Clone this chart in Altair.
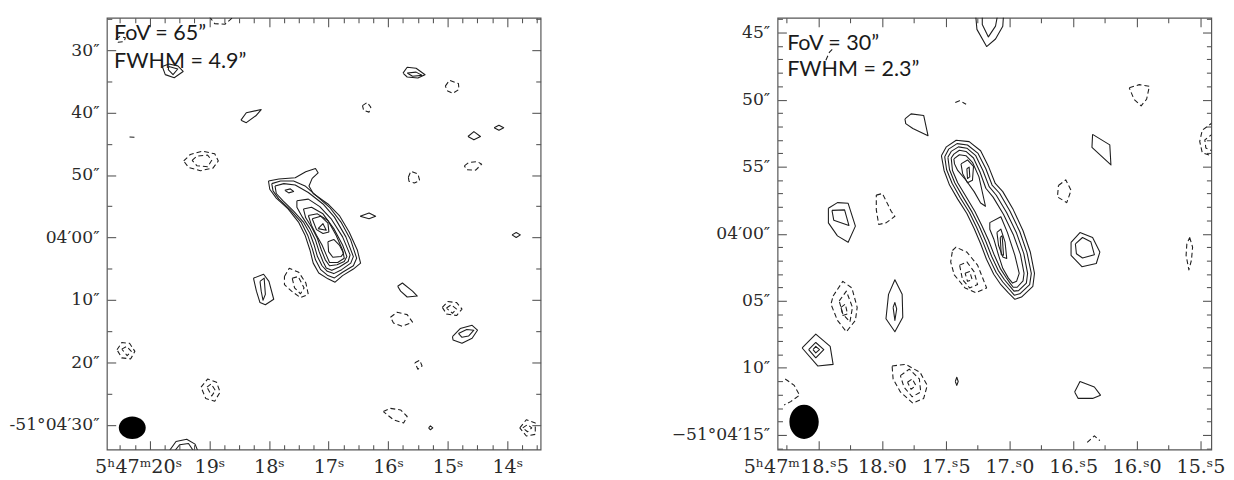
import altair as alt
import pandas as pd

FRAME = "#555555"
INK = "#1e1e1e"
LABEL_FONT = "DejaVu Serif"

# ---------------- LEFT PANEL (FoV 65", FWHM 4.9") ----------------
L_RA_DOMAIN = [20.72, 13.44]          # RA seconds (5h47m..), decreasing to the right
L_DEC_DOMAIN = [24.8, 94.0]           # arcsec past -51d03'00"
L_RA_MAJOR = [20, 19, 18, 17, 16, 15, 14]
L_RA_LABELS = ["5ʰ47ᵐ20ˢ", "19ˢ", "18ˢ", "17ˢ", "16ˢ", "15ˢ", "14ˢ"]
L_RA_MINOR = [20.5, 20.25, 19.75, 19.5, 19.25, 18.75, 18.5, 18.25, 17.75, 17.5, 17.25,
              16.75, 16.5, 16.25, 15.75, 15.5, 15.25, 14.75, 14.5, 14.25, 13.75, 13.5]
L_DEC_MAJOR = [30, 40, 50, 60, 70, 80, 90]
L_DEC_LABELS = ["30″", "40″", "50″", "04′00″", "10″", "20″", "-51°04′30″"]
L_DEC_MINOR = [25, 35, 45, 55, 65, 75, 85]

L_POS = [
    [(19.79, 32.6), (19.68, 32.2), (19.53, 32.5), (19.44, 33.39), (19.59, 34.4), (19.74, 33.9)],
    [(19.68, 32.6), (19.53, 33.0), (19.61, 33.9), (19.69, 33.1)],
    [(18.47, 41.2), (18.38, 40.0), (18.13, 39.5), (18.22, 40.5), (18.38, 41.6)],
    [(15.75, 33.65), (15.68, 32.71), (15.53, 32.87), (15.38, 33.91), (15.50, 34.43), (15.68, 34.28)],
    [(15.68, 33.65), (15.53, 33.5), (15.43, 34.02), (15.59, 34.17)],
    [(14.22, 42.42), (14.14, 42.0), (14.06, 42.42), (14.14, 42.8)],
    [(14.66, 43.82), (14.56, 43.04), (14.45, 43.82), (14.56, 44.35)],
    [(16.47, 56.6), (16.32, 56.08), (16.21, 56.6), (16.32, 57.0)],
    [(13.92, 59.58), (13.85, 59.21), (13.78, 59.58), (13.85, 60.0)],
    [(18.26, 66.52), (18.09, 65.9), (18.0, 67.04), (17.92, 69.9), (18.06, 70.79), (18.15, 70.43), (18.21, 68.6)],
    [(18.15, 67.04), (18.08, 66.52), (18.06, 69.12), (18.10, 70.06), (18.13, 68.6)],
    [(15.84, 67.82), (15.76, 67.3), (15.59, 68.6), (15.51, 69.38), (15.68, 69.54), (15.79, 68.6)],
    [(14.92, 75.9), (14.79, 74.6), (14.59, 74.08), (14.50, 74.86), (14.59, 76.16), (14.76, 76.95), (14.91, 76.43)],
    [(14.82, 75.38), (14.68, 74.76), (14.56, 74.86), (14.65, 75.8), (14.76, 76.0)],
    [(15.32, 90.51), (15.29, 90.2), (15.25, 90.51), (15.29, 90.82)],
    # main source, outer to inner
    [(18.008, 50.95), (17.833, 50.63), (17.559, 50.42), (17.383, 49.48), (17.219, 48.95), (17.175, 49.63),
     (17.274, 50.53), (17.328, 51.74), (17.257, 52.95), (17.010, 54.63), (16.818, 56.48), (16.654, 59.11),
     (16.517, 62.00), (16.462, 64.11), (16.583, 65.06), (16.764, 66.11), (16.890, 67.16), (17.010, 66.63),
     (17.164, 65.69), (17.257, 64.11), (17.312, 62.00), (17.394, 59.63), (17.504, 57.53), (17.679, 55.42),
     (17.877, 53.69), (17.986, 52.27)],
    [(17.953, 51.37), (17.805, 50.95), (17.586, 50.95), (17.394, 51.74), (17.202, 53.32), (16.983, 55.16),
     (16.791, 57.53), (16.627, 60.42), (16.528, 63.32), (16.583, 64.53), (16.764, 65.58), (16.901, 66.48),
     (17.010, 66.11), (17.131, 65.16), (17.219, 63.58), (17.274, 61.74), (17.350, 59.63), (17.460, 57.53),
     (17.641, 55.58), (17.833, 53.85), (17.931, 52.53)],
    [(17.898, 51.74), (17.750, 51.37), (17.559, 51.58), (17.339, 52.79), (17.093, 54.63), (16.901, 56.74),
     (16.709, 59.90), (16.583, 63.06), (16.627, 64.11), (16.780, 65.16), (16.912, 65.79), (17.021, 65.42),
     (17.109, 64.53), (17.186, 63.06), (17.241, 61.21), (17.312, 59.37), (17.421, 57.53), (17.586, 55.79),
     (17.767, 54.11), (17.877, 52.95)],
    [(17.734, 52.42), (17.641, 52.21), (17.586, 52.63), (17.668, 52.85)],
    [(17.531, 54.11), (17.339, 53.85), (17.147, 55.06), (16.956, 57.00), (16.764, 59.90), (16.638, 62.79),
     (16.671, 63.85), (16.818, 64.74), (16.945, 65.27), (17.038, 64.90), (17.093, 63.85), (17.158, 62.27),
     (17.219, 60.42), (17.312, 58.58), (17.438, 56.74), (17.531, 55.16)],
    [(17.421, 55.42), (17.285, 55.16), (17.093, 56.21), (16.912, 58.58), (16.764, 61.21), (16.692, 63.06),
     (16.736, 63.85), (16.857, 64.37), (16.983, 64.53), (17.054, 63.58), (17.120, 62.00), (17.186, 60.16),
     (17.285, 58.32), (17.383, 56.85)],
    [(17.339, 56.48), (17.186, 56.21), (17.010, 57.27), (16.873, 59.63), (16.764, 62.00), (16.736, 63.32),
     (16.846, 64.00), (16.983, 64.00), (17.038, 62.79), (17.109, 61.21), (17.202, 59.63), (17.285, 58.06)],
    [(17.274, 57.00), (17.131, 56.58), (17.010, 57.69), (16.994, 59.11), (17.093, 59.37), (17.202, 58.74)],
    [(17.175, 58.58), (17.093, 57.79), (17.038, 58.85)],
    [(17.010, 60.69), (16.912, 60.32), (16.818, 61.21), (16.747, 62.53), (16.791, 63.06), (16.928, 63.16),
     (16.999, 62.27)],
]
L_POS_OPEN = [
    [(19.68, 94.3), (19.56, 92.7), (19.38, 92.34), (19.24, 93.12), (19.19, 94.3)],
    [(19.59, 94.3), (19.50, 93.22), (19.35, 93.01), (19.26, 94.3)],
]
L_NEG = [
    [(20.57, 28.17), (20.50, 27.8), (20.41, 28.0), (20.43, 28.6), (20.53, 28.7)],
    [(19.43, 47.74), (19.32, 46.7), (19.12, 46.17), (18.91, 46.59), (18.85, 47.74), (18.94, 48.88), (19.15, 49.3), (19.35, 48.77)],
    [(19.29, 47.63), (19.21, 46.95), (19.03, 46.8), (18.96, 47.63), (19.03, 48.67), (19.21, 48.5)],
    [(16.43, 38.87), (16.35, 38.35), (16.29, 39.13), (16.32, 39.91), (16.41, 39.65)],
    [(15.04, 35.74), (14.97, 34.8), (14.82, 35.32), (14.81, 36.26), (14.91, 36.89), (15.0, 36.52)],
    [(14.72, 48.52), (14.65, 48.0), (14.50, 47.84), (14.43, 48.26), (14.53, 49.2), (14.68, 49.14)],
    [(15.66, 50.34), (15.62, 49.4), (15.50, 49.82), (15.47, 50.87), (15.56, 51.28), (15.65, 50.97)],
    [(17.74, 66.26), (17.66, 64.95), (17.50, 65.58), (17.38, 67.3), (17.34, 69.12), (17.47, 69.64), (17.62, 68.6), (17.74, 67.56)],
    [(17.61, 66.52), (17.51, 66.26), (17.41, 68.08), (17.47, 69.02), (17.57, 68.08)],
    [(15.09, 71.2), (15.0, 70.27), (14.85, 70.43), (14.76, 71.47), (14.85, 72.51), (15.02, 72.25)],
    [(15.02, 71.31), (14.94, 70.79), (14.85, 71.47), (14.92, 72.15)],
    [(15.96, 72.78), (15.85, 71.99), (15.68, 72.36), (15.59, 73.56), (15.76, 74.24), (15.91, 73.71)],
    [(20.55, 78.0), (20.47, 76.84), (20.34, 76.95), (20.25, 78.25), (20.32, 79.45), (20.47, 79.3)],
    [(20.47, 77.89), (20.39, 77.47), (20.31, 78.25), (20.38, 78.93)],
    [(15.55, 80.08), (15.47, 79.66), (15.43, 80.6), (15.50, 81.12)],
    [(19.14, 83.99), (19.03, 82.69), (18.88, 83.21), (18.82, 84.77), (18.91, 86.23), (19.06, 85.82)],
    [(19.04, 83.99), (18.97, 83.47), (18.90, 84.51), (18.96, 85.4)],
    [(16.08, 87.9), (15.97, 87.38), (15.79, 87.64), (15.68, 88.69), (15.74, 89.73), (15.91, 89.21)],
    [(13.79, 90.51), (13.68, 89.21), (13.53, 89.73), (13.53, 91.55), (13.68, 91.82)],
    [(13.74, 90.51), (13.66, 89.99), (13.59, 90.51), (13.66, 91.14)],
]
L_NEG_OPEN = [
    [(19.0, 24.6), (18.91, 25.72), (18.74, 25.83), (18.59, 24.6)],
    [(20.34, 43.9), (20.21, 43.95)],
]
L_BEAM_RA = [20.294]
L_BEAM_DEC = [90.5]
L_TEXT_RA = [20.60, 20.60]
L_TEXT_DEC = [28.4, 32.9]
L_TEXT = ["FoV = 65”", "FWHM = 4.9”"]

# ---------------- RIGHT PANEL (FoV 30", FWHM 2.3") ----------------
R_RA_DOMAIN = [18.82, 15.415]
R_DEC_DOMAIN = [43.9, 76.1]
R_RA_MAJOR = [18.5, 18.0, 17.5, 17.0, 16.5, 16.0, 15.5]
R_RA_LABELS = ["5ʰ47ᵐ18.ˢ5", "18.ˢ0", "17.ˢ5", "17.ˢ0", "16.ˢ5", "16.ˢ0", "15.ˢ5"]
R_RA_MINOR = [18.75, 18.25, 17.75, 17.25, 16.75, 16.25, 15.75]
R_DEC_MAJOR = [45, 50, 55, 60, 65, 70, 75]
R_DEC_LABELS = ["45″", "50″", "55″", "04′00″", "05″", "10″", "−51°04′15″"]
R_DEC_MINOR = [44, 46, 47, 48, 49, 51, 52, 53, 54, 56, 57, 58, 59, 61, 62, 63, 64,
               66, 67, 68, 69, 71, 72, 73, 74, 76]

R_POS = [
    [(17.82, 51.43), (17.772, 51.06), (17.673, 51.18), (17.639, 52.69), (17.758, 52.15), (17.814, 51.79)],
    [(16.347, 52.59), (16.212, 53.37), (16.203, 54.87), (16.352, 53.56)],
    [(18.421, 58.10), (18.350, 57.68), (18.266, 57.73), (18.209, 59.43), (18.266, 60.64), (18.350, 60.16), (18.421, 59.19)],
    [(18.393, 58.26), (18.294, 58.22), (18.260, 59.38), (18.379, 58.99)],
    [(16.516, 60.64), (16.446, 59.91), (16.347, 60.28), (16.290, 61.37), (16.318, 62.22), (16.431, 62.46), (16.516, 61.61)],
    [(16.482, 60.76), (16.426, 60.28), (16.361, 60.59), (16.333, 61.56), (16.426, 61.81), (16.474, 61.49)],
    [(17.949, 64.52), (17.899, 63.43), (17.842, 64.52), (17.837, 66.22), (17.899, 67.31), (17.969, 66.34)],
    [(17.913, 65.49), (17.899, 65.13), (17.885, 65.61), (17.899, 66.46)],
    [(18.627, 68.52), (18.520, 67.48), (18.407, 68.40), (18.384, 69.74), (18.505, 69.86)],
    [(18.576, 68.64), (18.520, 68.11), (18.457, 68.64), (18.520, 69.25)],
    [(18.542, 68.64), (18.520, 68.40), (18.491, 68.64), (18.520, 68.89)],
    [(17.425, 71.02), (17.413, 70.70), (17.402, 71.02), (17.413, 71.31)],
    [(16.488, 71.80), (16.446, 71.02), (16.333, 71.43), (16.285, 72.04), (16.347, 72.28), (16.460, 72.28)],
    # main source
    [(17.534, 54.18), (17.495, 53.52), (17.418, 53.03), (17.316, 53.13), (17.226, 53.81), (17.162, 55.03),
     (17.111, 56.25), (17.052, 56.86), (16.970, 58.20), (16.893, 59.78), (16.836, 61.36), (16.803, 62.95),
     (16.816, 63.92), (16.905, 64.72), (16.957, 64.89), (17.008, 64.41), (17.067, 63.80), (17.123, 63.02),
     (17.180, 61.90), (17.226, 60.75), (17.277, 59.61), (17.334, 58.49), (17.406, 57.42), (17.470, 56.37),
     (17.513, 55.28)],
    [(17.508, 54.25), (17.477, 53.69), (17.411, 53.28), (17.329, 53.38), (17.246, 54.01), (17.185, 55.15),
     (17.136, 56.37), (17.077, 56.98), (16.995, 58.32), (16.918, 59.85), (16.862, 61.41), (16.828, 62.95),
     (16.841, 63.80), (16.918, 64.48), (16.962, 64.58), (17.000, 64.16), (17.052, 63.60), (17.105, 62.87),
     (17.159, 61.80), (17.205, 60.68), (17.257, 59.54), (17.313, 58.44), (17.385, 57.34), (17.449, 56.25),
     (17.493, 55.23)],
    [(17.483, 54.30), (17.457, 53.86), (17.400, 53.52), (17.334, 53.62), (17.264, 54.18), (17.208, 55.28),
     (17.159, 56.49), (17.103, 57.13), (17.021, 58.44), (16.944, 59.95), (16.887, 61.48), (16.857, 62.95),
     (16.867, 63.68), (16.928, 64.24), (16.964, 64.28), (16.995, 63.92), (17.039, 63.43), (17.088, 62.73),
     (17.139, 61.70), (17.185, 60.58), (17.236, 59.46), (17.293, 58.39), (17.364, 57.27), (17.429, 56.20),
     (17.470, 55.23)],
    [(17.457, 54.35), (17.436, 54.06), (17.393, 53.77), (17.341, 53.86), (17.282, 54.35), (17.231, 55.40),
     (17.185, 56.61), (17.128, 57.27), (17.046, 58.56), (16.970, 60.05), (16.913, 61.56), (16.885, 62.95),
     (16.893, 63.51), (16.939, 63.99), (16.970, 63.99), (16.995, 63.68), (17.026, 63.26), (17.072, 62.58),
     (17.118, 61.61), (17.164, 60.49), (17.216, 59.41), (17.272, 58.32), (17.341, 57.22), (17.406, 56.20),
     (17.447, 55.28)],
    [(17.436, 54.42), (17.393, 54.11), (17.341, 54.18), (17.290, 54.67), (17.239, 55.76), (17.188, 57.95),
     (17.226, 57.71), (17.277, 56.86), (17.341, 56.01), (17.406, 55.28), (17.431, 54.79)],
    [(17.154, 59.17), (17.067, 58.73), (17.016, 59.90), (16.957, 61.61), (16.923, 62.95), (16.944, 63.55),
     (16.975, 63.68), (17.008, 63.31), (17.052, 62.58), (17.085, 61.61), (17.123, 60.39), (17.154, 59.66)],
    [(17.380, 54.79), (17.329, 54.50), (17.282, 54.98), (17.290, 56.01), (17.329, 56.20), (17.367, 55.52)],
    [(17.334, 55.15), (17.316, 55.03), (17.311, 55.76), (17.329, 55.88)],
    [(17.098, 59.90), (17.067, 59.66), (17.034, 60.63), (17.021, 61.85), (17.052, 61.73), (17.085, 60.88)],
    [(17.072, 60.27), (17.057, 60.15), (17.046, 61.61), (17.064, 61.56)],
]
R_POS_OPEN = [
    [(17.264, 43.8), (17.255, 44.76), (17.179, 46.04), (17.109, 45.48), (17.052, 44.52), (17.047, 43.8)],
    [(17.213, 43.8), (17.213, 44.39), (17.165, 45.32), (17.109, 44.52), (17.095, 43.8)],
]
R_NEG = [
    [(16.059, 49.12), (15.980, 48.88), (15.901, 49.0), (15.923, 49.97), (15.966, 50.46), (16.022, 49.97)],
    [(18.045, 57.12), (17.997, 57.0), (17.927, 58.34), (17.899, 58.70), (17.969, 59.19), (18.026, 59.31), (18.045, 58.22)],
    [(16.615, 56.40), (16.558, 55.98), (16.516, 56.76), (16.550, 57.68), (16.623, 57.25)],
    [(15.585, 60.28), (15.562, 61.0), (15.571, 61.97), (15.591, 62.70), (15.613, 61.61), (15.607, 60.76)],
    [(17.447, 61.25), (17.419, 61.0), (17.334, 61.37), (17.250, 62.34), (17.179, 64.04), (17.264, 64.40),
     (17.348, 64.04), (17.433, 63.07), (17.461, 62.10)],
    [(17.391, 62.34), (17.334, 62.10), (17.278, 62.82), (17.250, 63.79), (17.312, 64.04), (17.368, 63.43)],
    [(17.348, 62.94), (17.312, 62.82), (17.292, 63.43), (17.329, 63.55)],
    [(18.384, 64.64), (18.308, 63.55), (18.237, 64.04), (18.195, 65.49), (18.209, 66.46), (18.280, 67.31),
     (18.350, 66.46), (18.401, 65.25)],
    [(18.336, 65.01), (18.280, 64.28), (18.232, 65.49), (18.252, 66.58), (18.308, 65.98)],
    [(18.322, 65.49), (18.288, 65.25), (18.271, 65.98), (18.308, 66.10)],
    [(17.921, 69.86), (17.814, 69.74), (17.701, 70.34), (17.645, 71.31), (17.673, 72.28), (17.758, 72.64),
     (17.856, 71.80), (17.913, 70.83)],
    [(17.856, 70.58), (17.786, 70.10), (17.707, 70.83), (17.696, 71.80), (17.763, 72.16), (17.828, 71.43)],
    [(17.800, 71.07), (17.763, 70.83), (17.735, 71.31), (17.772, 71.60)],
]
R_NEG_OPEN = [
    [(18.441, 47.06), (18.412, 46.45), (18.379, 46.14)],
    [(17.425, 50.21), (17.391, 50.09), (17.340, 50.34)],
    [(15.40, 51.67), (15.486, 52.28), (15.506, 53.12), (15.486, 53.97), (15.40, 54.22)],
    [(15.40, 52.52), (15.466, 53.0), (15.458, 53.61), (15.40, 53.85)],
    [(18.760, 70.83), (18.689, 71.31), (18.647, 72.04), (18.717, 72.52), (18.768, 72.77)],
    [(16.389, 75.56), (16.333, 75.07), (16.290, 75.43)],
]
R_BEAM_RA = [18.612]
R_BEAM_DEC = [74.03]
R_TEXT_RA = [18.745, 18.745]
R_TEXT_DEC = [46.33, 48.27]
R_TEXT = ["FoV = 30”", "FWHM = 2.3”"]

L_BEAM_PATH = "M -1 0 A 1 0.84 0 1 0 1 0 A 1 0.84 0 1 0 -1 0 Z"
R_BEAM_PATH = "M -0.857 0 A 0.857 1 0 1 0 0.857 0 A 0.857 1 0 1 0 -0.857 0 Z"


def contour_frame(tag, pos, pos_open, neg, neg_open):
    rows = []
    n = 0
    for kind, group, closed in [("pos", pos, True), ("pos", pos_open, False),
                                ("neg", neg, True), ("neg", neg_open, False)]:
        for poly in group:
            n += 1
            pts = list(poly) + ([poly[0]] if closed else [])
            for i, (ra, dec) in enumerate(pts):
                rows.append({"ra": ra, "dec": dec, "cid": f"{tag}{n}", "ord": i, "kind": kind})
    return pd.DataFrame(rows)


def label_expr(values, labels):
    s = ""
    for v, l in zip(values, labels):
        s += f"abs(datum.value - ({v})) < 1e-6 ? '{l}' : "
    return s + "''"


def axis(orient, values, size, labels=None, pad=4, first_shift=0, font_size=17):
    kw = dict(orient=orient, values=values, tickSize=size, offset=-size, domain=False,
              grid=False, title="", tickColor=FRAME, tickWidth=1.1, labels=False)
    if labels is not None:
        kw.update(labels=True, labelExpr=label_expr(values, labels), labelFont=LABEL_FONT,
                  labelFontSize=font_size, labelColor="#2a2a2a", labelPadding=pad,
                  labelOverlap=False, labelFlush=False, labelBound=False)
        if first_shift:
            kw["labelOffset"] = {
                "condition": {"test": f"abs(datum.value - ({values[0]})) < 1e-6", "value": first_shift},
                "value": 0,
            }
    return alt.Axis(**kw)


def panel(tag, pos, pos_open, neg, neg_open, ra_dom, dec_dom, ra_major, ra_labels, ra_minor,
          dec_major, dec_labels, dec_minor, beam_ra, beam_dec, beam_path, beam_size,
          text_ra, text_dec, texts, text_size, first_shift):
    df = contour_frame(tag, pos, pos_open, neg, neg_open)
    xs = alt.Scale(domain=ra_dom, nice=False, zero=False)
    ys = alt.Scale(domain=[dec_dom[1], dec_dom[0]], nice=False, zero=False)

    base = alt.Chart(df)
    pos_layer = base.transform_filter("datum.kind == 'pos'").mark_line(
        color=INK, strokeWidth=1.1, clip=True, strokeJoin="round"
    ).encode(
        x=alt.X("ra:Q", scale=xs, axis=axis("bottom", ra_major, 9, ra_labels, 8, first_shift, 19.5)),
        y=alt.Y("dec:Q", scale=ys, axis=axis("left", dec_major, 9, dec_labels, 8, 0, 17.5)),
        detail="cid:N", order="ord:Q",
    )
    neg_layer = base.transform_filter("datum.kind == 'neg'").mark_line(
        color=INK, strokeWidth=1.1, clip=True, strokeDash=[5, 3], strokeJoin="round"
    ).encode(
        x=alt.X("ra:Q", scale=xs, axis=axis("top", ra_major, 9)),
        y=alt.Y("dec:Q", scale=ys, axis=axis("right", dec_major, 9)),
        detail="cid:N", order="ord:Q",
    )
    beam_df = pd.DataFrame({"ra": beam_ra, "dec": beam_dec})
    beam_layer = alt.Chart(beam_df).mark_point(
        shape=beam_path, filled=True, size=beam_size, color="black", opacity=1
    ).encode(
        x=alt.X("ra:Q", scale=xs, axis=axis("bottom", ra_minor, 5)),
        y=alt.Y("dec:Q", scale=ys, axis=axis("left", dec_minor, 5)),
    )
    text_df = pd.DataFrame({"ra": text_ra, "dec": text_dec, "label": texts})
    text_layer = alt.Chart(text_df).mark_text(
        align="left", baseline="alphabetic", font="Lato", fontSize=text_size, color="#1a1a1a"
    ).encode(
        x=alt.X("ra:Q", scale=xs, axis=axis("top", ra_minor, 5)),
        y=alt.Y("dec:Q", scale=ys, axis=axis("right", dec_minor, 5)),
        text="label:N",
    )
    return alt.layer(pos_layer, neg_layer, beam_layer, text_layer).resolve_axis(
        x="independent", y="independent"
    ).properties(width=443, height=441)


left = panel("L", L_POS, L_POS_OPEN, L_NEG, L_NEG_OPEN, L_RA_DOMAIN, L_DEC_DOMAIN,
             L_RA_MAJOR, L_RA_LABELS, L_RA_MINOR, L_DEC_MAJOR, L_DEC_LABELS, L_DEC_MINOR,
             L_BEAM_RA, L_BEAM_DEC, L_BEAM_PATH, 756, L_TEXT_RA, L_TEXT_DEC, L_TEXT, 22, -12)
right = panel("R", R_POS, R_POS_OPEN, R_NEG, R_NEG_OPEN, R_RA_DOMAIN, R_DEC_DOMAIN,
              R_RA_MAJOR, R_RA_LABELS, R_RA_MINOR, R_DEC_MAJOR, R_DEC_LABELS, R_DEC_MINOR,
              R_BEAM_RA, R_BEAM_DEC, R_BEAM_PATH, 1225, R_TEXT_RA, R_TEXT_DEC, R_TEXT, 22, -23)

chart = alt.hconcat(left, right, spacing=130).properties(
    padding={"left": 0, "top": 3, "right": 0, "bottom": 0}
).configure_view(stroke=FRAME, strokeWidth=1.2)

chart.save("out.html", embed_options={"renderer": "svg", "actions": False})
